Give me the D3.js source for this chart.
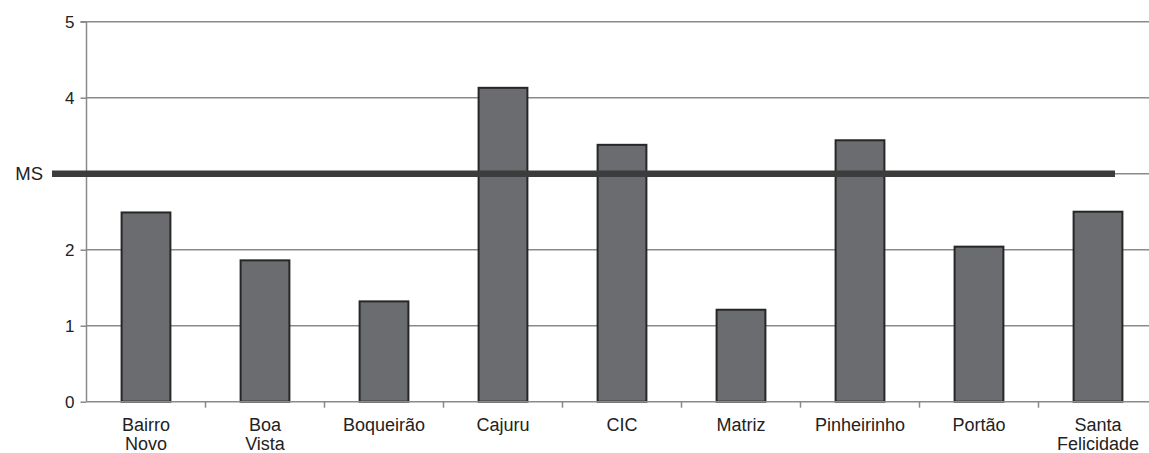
<!DOCTYPE html>
<html><head><meta charset="utf-8">
<script src="https://cdn.jsdelivr.net/npm/d3@7"></script>
<style>body{margin:0;background:#fff}svg{display:block;font-family:"Liberation Sans",Arial,sans-serif}</style>
</head><body>
<svg id="c" width="1149" height="453"></svg>
<script>
const categories = [["Bairro","Novo"],["Boa","Vista"],["Boqueirão"],["Cajuru"],["CIC"],["Matriz"],["Pinheirinho"],["Portão"],["Santa","Felicidade"]];
const values = [2.49, 1.86, 1.32, 4.13, 3.38, 1.21, 3.44, 2.04, 2.50];
const yTicks = [0, 1, 2, 4, 5];
const gridValues = [1, 2, 3, 4, 5];
const msValue = 3;
const msLabel = "MS";

const svg = d3.select("#c");
const x0 = 86.5, x1 = 1157.5, yTop = 21.7, yBot = 401.7;
const names = categories.map(c => c.join(" "));
const x = d3.scaleBand().domain(names).range([x0, x1]).paddingInner(0.59).paddingOuter(0.295);
const xEdges = d3.scaleBand().domain(names).range([x0, x1]);
const y = d3.scaleLinear().domain([0, 5]).range([yBot, yTop]);

// gridlines
svg.append("g").selectAll("line").data(gridValues).join("line")
  .attr("x1", x0).attr("x2", 1149).attr("y1", d => y(d)).attr("y2", d => y(d))
  .attr("stroke", "#8a8a8a").attr("stroke-width", 1.5);

// bars
svg.append("g").selectAll("rect").data(values).join("rect")
  .attr("x", (d, i) => x(names[i])).attr("width", x.bandwidth())
  .attr("y", d => y(d)).attr("height", d => y(0) - y(d))
  .attr("fill", "#6b6c70").attr("stroke", "#262626").attr("stroke-width", 2);

// y axis
const yAxis = d3.axisLeft(y).tickValues(yTicks).tickSize(6).tickPadding(6).tickFormat(d3.format("d"));
const ya = svg.append("g").attr("transform", `translate(${x0},0)`).call(yAxis);
ya.select(".domain").attr("stroke", "#8a8a8a").attr("stroke-width", 1.5).attr("d", `M-6,${yTop}H0V${yBot}`);
ya.selectAll(".tick line").attr("stroke", "#8a8a8a").attr("stroke-width", 1.5);
ya.selectAll(".tick text").attr("font-size", 17).attr("fill", "#222").attr("font-family", "Liberation Sans, Arial, sans-serif");

// x axis
const xa = svg.append("g").attr("transform", `translate(0,${yBot})`);
xa.append("line").attr("x1", x0).attr("x2", 1149).attr("stroke", "#8a8a8a").attr("stroke-width", 1.5);
xa.selectAll("line.t").data(names.slice(1)).join("line").attr("class", "t")
  .attr("x1", d => xEdges(d)).attr("x2", d => xEdges(d)).attr("y1", 0).attr("y2", 6)
  .attr("stroke", "#8a8a8a").attr("stroke-width", 1.5);
const lab = xa.selectAll("text").data(categories).join("text")
  .attr("text-anchor", "middle").attr("font-size", 18).attr("fill", "#222")
  .attr("transform", (d, i) => `translate(${xEdges(names[i]) + xEdges.bandwidth() / 2},0)`);
lab.selectAll("tspan").data(d => d).join("tspan")
  .attr("x", 0).attr("y", (d, j) => 29.5 + j * 19).text(d => d);

// MS line
svg.append("line").attr("x1", 52).attr("x2", 1115).attr("y1", y(msValue)).attr("y2", y(msValue))
  .attr("stroke", "#3c3c3c").attr("stroke-width", 6.5);
svg.append("text").attr("x", 43).attr("y", y(msValue)).attr("dy", "0.36em")
  .attr("text-anchor", "end").attr("font-size", 18.5).attr("fill", "#222").text(msLabel);
</script>
</body></html>
